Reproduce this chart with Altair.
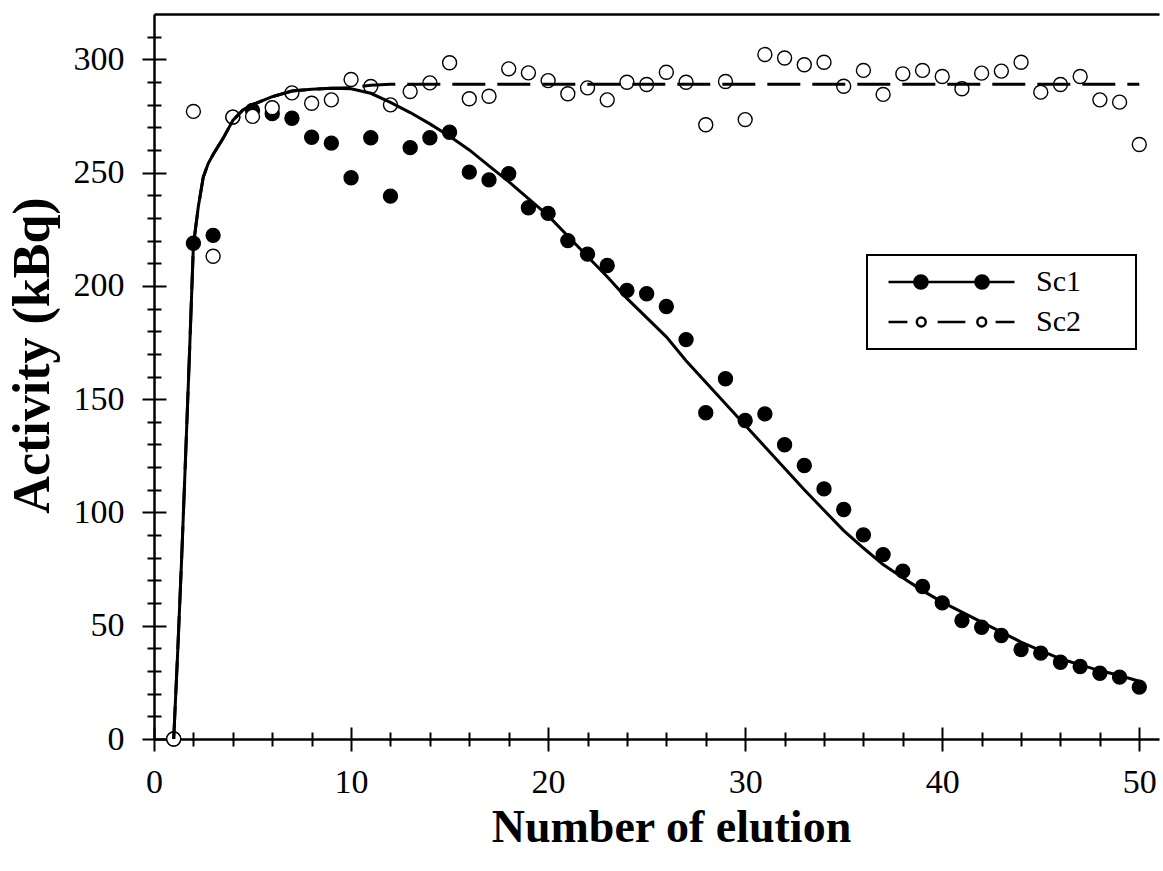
import altair as alt
import pandas as pd

# ---- data ----
elution = list(range(1, 51))
sc1 = [0, 218.8, 222.3, 274.5, 277.4, 276, 274, 265.6, 263, 247.7,
       265.4, 239.6, 261, 265.4, 267.8, 250.2, 246.8, 249.5, 234.5, 232,
       220, 214, 209, 198, 196.5, 190.9, 176.3, 144, 159, 140.6,
       143.5, 129.9, 120.7, 110.4, 101.3, 90.1, 81.4, 74.1, 67.3, 60.1,
       52.3, 49.3, 45.7, 39.5, 37.9, 33.9, 32, 29, 27.3, 22.9]
sc2 = [0, 277, 213.1, 274.5, 274.8, 278.6, 285.2, 280.6, 282.1, 291.1,
       288, 279.9, 285.8, 289.6, 298.5, 282.6, 283.7, 295.8, 294, 290.6,
       284.8, 287.4, 282.1, 289.9, 288.9, 294.3, 289.9, 271.1, 290.2, 273.4,
       302.1, 300.6, 297.6, 298.7, 288.1, 295.1, 284.5, 293.6, 295.1, 292.4,
       287, 293.9, 294.8, 298.7, 285.5, 288.9, 292.4, 282.1, 281.1, 262.4]

fit1_x = [1, 1.2, 1.4, 1.6, 1.8, 1.9, 2.0, 2.25, 2.5, 2.75, 3.0, 3.5, 4, 4.5, 5,
          6, 7, 8, 9, 10] + list(range(11, 51))
fit1_y = [0, 38, 79, 124, 170, 194, 218, 235, 248, 254, 258, 265, 273, 277.5, 280,
          283.5, 286, 286.8, 287.2, 287,
          285, 281, 276.5, 271.5, 266, 260, 253, 246, 238.5, 231,
          222, 213, 204, 194.5, 186, 177.5, 167, 157.5, 148, 138.5,
          129, 119.5, 110, 101, 92, 84.3, 77, 71.2, 65.5, 60.4,
          56, 51.6, 47.2, 42.8, 39, 35.4, 32.7, 30.2, 28, 25.5]
fit2_x = [1, 1.2, 1.4, 1.6, 1.8, 1.9, 2.0, 2.25, 2.5, 2.75, 3.0, 3.5, 4, 4.5, 5,
          6, 7, 8, 9, 10, 11, 12, 50]
fit2_y = [0, 38, 79, 124, 170, 194, 218, 235, 248, 254, 258, 265, 273, 277.5, 280,
          283.5, 286, 286.8, 287.2, 287.5, 288.5, 289, 289]

series_names = ["Sc1", "Sc2"]
x_major = [0, 10, 20, 30, 40, 50]
x_minor = [v for v in range(0, 51, 2) if v % 10 != 0]
y_major = [0, 50, 100, 150, 200, 250, 300]
y_minor = [v for v in range(10, 320, 10) if v % 50 != 0]

pts = pd.DataFrame({
    "x": elution + elution,
    "y": sc1 + sc2,
    "series": ["Sc1"] * len(sc1) + ["Sc2"] * len(sc2),
})
f1 = pd.DataFrame({"x": fit1_x, "y": fit1_y})
f2 = pd.DataFrame({"x": fit2_x, "y": fit2_y})

FONT = "Liberation Serif"
xscale = alt.Scale(domain=[0, 51], nice=False, zero=False)
yscale = alt.Scale(domain=[0, 320], nice=False)

fill_scale = alt.Scale(domain=series_names, range=["black", "white"])
stroke_scale = alt.Scale(domain=series_names, range=["black", "black"])
path_sc1 = ("M-1,0L1,0"
            "M-0.38,0A0.105,0.105,0,1,1,-0.59,0A0.105,0.105,0,1,1,-0.38,0Z"
            "M0.59,0A0.105,0.105,0,1,1,0.38,0A0.105,0.105,0,1,1,0.59,0Z")
path_sc2 = ("M-1,0L-0.7,0M-0.22,0L0.22,0M0.7,0L1,0"
            "M-0.41,0A0.07,0.07,0,1,1,-0.55,0A0.07,0.07,0,1,1,-0.41,0Z"
            "M0.55,0A0.07,0.07,0,1,1,0.41,0A0.07,0.07,0,1,1,0.55,0Z")
shape_scale = alt.Scale(domain=series_names, range=[path_sc1, path_sc2])

legend_def = alt.Legend(
    orient="none", legendX=713, legendY=241,
    padding=10, strokeColor="black", fillColor="white",
    labelFont=FONT, labelFontSize=30, labelColor="black", labelOffset=20,
    labelExpr="datum.label + '\u00a0\u00a0\u00a0\u00a0\u00a0\u00a0\u200b'",
    symbolOffset=10,
    symbolSize=15876, symbolStrokeColor="black", symbolStrokeWidth=2.5,
    symbolOpacity=1, clipHeight=34, rowPadding=6,
)

def axis_layer(xaxis, yaxis):
    return alt.Chart(pts).mark_point(opacity=0).encode(
        x=alt.X("x:Q", scale=xscale, axis=xaxis),
        y=alt.Y("y:Q", scale=yscale, axis=yaxis),
    )

common = dict(grid=False, tickColor="black", domainColor="black")

main_axes = axis_layer(
    alt.Axis(orient="bottom", values=x_major, title="Number of elution",
             tickSize=12, tickWidth=2, domainWidth=2.5,
             labelFont=FONT, labelFontSize=34, labelColor="black", labelPadding=14,
             labelFlush=False,
             titleFont=FONT, titleFontSize=46, titleFontWeight="bold", titleColor="black",
             titlePadding=6, titleX=517, **common),
    alt.Axis(orient="left", values=y_major, title="Activity (kBq)",
             tickSize=12, tickWidth=2, domainWidth=2.5,
             labelFont=FONT, labelFontSize=34, labelColor="black", labelPadding=18,
             titleFont=FONT, titleFontSize=52, titleFontWeight="bold", titleColor="black",
             titlePadding=14, titleY=341, **common),
)
major_in = axis_layer(
    alt.Axis(orient="bottom", values=x_major, offset=-12, tickSize=12, tickWidth=2,
             domain=False, labels=False, title="", **common),
    alt.Axis(orient="left", values=y_major, offset=-12, tickSize=12, tickWidth=2,
             domain=False, labels=False, title="", **common),
)
minor_out = axis_layer(
    alt.Axis(orient="bottom", values=x_minor, tickSize=7, tickWidth=2,
             domain=False, labels=False, title="", **common),
    alt.Axis(orient="left", values=y_minor, tickSize=7, tickWidth=2,
             domain=False, labels=False, title="", **common),
)
minor_in = axis_layer(
    alt.Axis(orient="bottom", values=x_minor, offset=-7, tickSize=7, tickWidth=2,
             domain=False, labels=False, title="", **common),
    alt.Axis(orient="left", values=y_minor, offset=-7, tickSize=7, tickWidth=2,
             domain=False, labels=False, title="", **common),
)
top_line = alt.Chart(pts).mark_point(opacity=0).encode(
    x=alt.X("x:Q", scale=xscale,
            axis=alt.Axis(orient="top", ticks=False, labels=False, domainWidth=2.5,
                          title="", **common)),
    y=alt.Y("y:Q", scale=yscale, axis=None),
)

points = alt.Chart(pts).mark_point(filled=True, size=195, strokeWidth=1.4,
                                   opacity=1).encode(
    x=alt.X("x:Q", scale=xscale, axis=None),
    y=alt.Y("y:Q", scale=yscale, axis=None),
    fill=alt.Fill("series:N", scale=fill_scale, legend=legend_def, title=None),
    stroke=alt.Stroke("series:N", scale=stroke_scale, legend=legend_def, title=None),
)
legend_layer = alt.Chart(pts).transform_filter("false").mark_point(
    filled=True, strokeWidth=2.5).encode(
    x=alt.X("x:Q", scale=xscale, axis=None),
    y=alt.Y("y:Q", scale=yscale, axis=None),
    fill=alt.Fill("series:N", scale=fill_scale, legend=legend_def, title=None),
    stroke=alt.Stroke("series:N", scale=stroke_scale, legend=legend_def, title=None),
    shape=alt.Shape("series:N", scale=shape_scale, legend=legend_def, title=None),
)
line1 = alt.Chart(f1).mark_line(color="black", strokeWidth=3).encode(
    x=alt.X("x:Q", scale=xscale, axis=None),
    y=alt.Y("y:Q", scale=yscale, axis=None),
)
line2 = alt.Chart(f2).mark_line(color="black", strokeWidth=3, strokeDash=[33, 12]).encode(
    x=alt.X("x:Q", scale=xscale, axis=None),
    y=alt.Y("y:Q", scale=yscale, axis=None),
)

chart = alt.layer(
    main_axes, major_in, minor_out, minor_in, top_line,
    points, line1, line2, legend_layer,
).resolve_axis(x="independent", y="independent").properties(
    width=1005, height=725,
    autosize=alt.AutoSizeParams(type="none"),
    padding={"left": 154, "top": 14, "right": 4, "bottom": 132},
    background="white",
).configure_view(strokeWidth=0).configure_legend(strokeWidth=2)

chart.save("out.html", embed_options={"renderer": "svg", "actions": False})
